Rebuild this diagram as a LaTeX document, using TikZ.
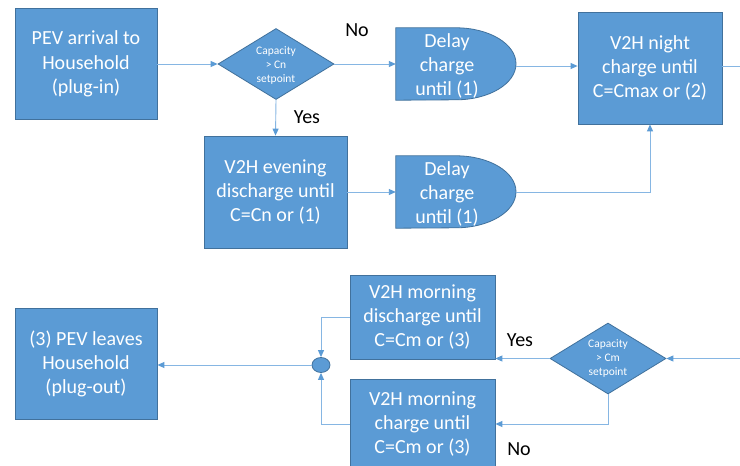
\documentclass[tikz,border=0pt]{standalone}
\usepackage{fontspec}
\setmainfont{Carlito}
\usetikzlibrary{shapes.geometric,arrows.meta}
\definecolor{boxfill}{HTML}{5B9BD5}
\definecolor{boxline}{HTML}{41719C}
\definecolor{connc}{HTML}{86B6E3}
\definecolor{tipc}{HTML}{5B9BD5}
\begin{document}
\begin{tikzpicture}[x=1pt,y=1pt,
 box/.style={rectangle, fill=boxfill, draw=boxline, line width=0.8pt, text=white, align=center, font=\fontsize{20}{24.4}\selectfont, inner sep=0pt},
 dec/.style={diamond, fill=boxfill, draw=boxline, line width=0.8pt, inner sep=0pt, minimum width=116pt, minimum height=71pt},
 dectext/.style={text=white, align=center, font=\fontsize{11.5}{14}\selectfont, inner sep=0pt},
 delayph/.style={rectangle, minimum width=120pt, minimum height=72pt, inner sep=0pt},
 delayshape/.style={fill=boxfill, draw=boxline, line width=0.8pt},
 dtext/.style={text=white, align=center, font=\fontsize{20}{24.4}\selectfont, inner sep=0pt},
 lab/.style={font=\fontsize{20}{24}\selectfont, inner sep=0pt},
 conn/.style={draw=connc, line width=0.9pt, -{Triangle[length=7pt,width=6pt,color=tipc]}},
 plainline/.style={draw=connc, line width=0.9pt},
 junction/.style={ellipse, fill=boxfill, draw=boxline, line width=0.8pt, minimum width=18pt, minimum height=15pt, inner sep=0pt}
]
\useasboundingbox[fill=white] (0,0) rectangle (740,-466);

% top part
\node[box, minimum width=142pt, minimum height=111pt] (arr) at (86,-64) {PEV arrival to\\Household\\(plug-in)};
\node[dec] (dia1) at (276,-64) {};
\node[dectext] at (276,-65) {Capacity\\> Cn\\setpoint};
\node[box, minimum width=143pt, minimum height=112pt] (eve) at (275.5,-192) {V2H evening\\discharge until\\C=Cn or (1)};

\node[delayph] (d1) at (456,-64) {};
\draw[delayshape] (d1.north west) -- (d1.north) arc[start angle=90, end angle=-90, x radius=60pt, y radius=36pt] -- (d1.south west) -- cycle;
\node[dtext] at (447,-66) {Delay\\charge\\until (1)};

\node[delayph] (d2) at (456,-192) {};
\draw[delayshape] (d2.north west) -- (d2.north) arc[start angle=90, end angle=-90, x radius=60pt, y radius=36pt] -- (d2.south west) -- cycle;
\node[dtext] at (447,-194) {Delay\\charge\\until (1)};

\node[box, minimum width=144pt, minimum height=112pt] (night) at (650,-68) {V2H night\\charge until\\C=Cmax or (2)};
\coordinate (out1) at (740,-66);

% bottom part
\node[box, minimum width=142pt, minimum height=111pt] (leave) at (86,-364) {(3) PEV leaves\\Household\\(plug-out)};
\node[junction] (junc) at (321,-365) {};
\node[box, minimum width=145pt, minimum height=84pt] (mdis) at (422.5,-317) {V2H morning\\discharge until\\C=Cm or (3)};
\node[box, minimum width=145pt, minimum height=90pt] (mch) at (422.5,-424) {V2H morning\\charge until\\C=Cm or (3)};
\node[dec] (dia2) at (608,-358.5) {};
\node[dectext] at (608,-358.5) {Capacity\\> Cm\\setpoint};
\coordinate (in2) at (740,-358.5);

% connectors
\draw[conn] (arr.east) -- (dia1.west);
\draw[conn] (dia1.east) -- (d1.west);
\draw[conn] (dia1.south) -- (eve.north);
\draw[conn] (eve.east) -- (d2.west);
\draw[conn] (d1.east |- out1) -- (night.west |- out1);
\draw[conn] (d2.east) -| (night.south);
\draw[plainline] (night.east |- out1) -- (out1);

\draw[conn] (in2) -- (dia2.east);
\draw[conn] (dia2.west) -- (dia2.west -| mdis.east);
\draw[conn] (dia2.south) |- (mch.east);
\draw[conn] (mdis.west) -| (junc.north);
\draw[conn] (mch.west) -| (junc.south);
\draw[conn] (junc.west) -- (junc.west -| leave.east);

% labels
\node[lab] at (357,-30) {No};
\node[lab] at (307,-117) {Yes};
\node[lab] at (520,-340) {Yes};
\node[lab] at (519,-449) {No};
\end{tikzpicture}
\end{document}
